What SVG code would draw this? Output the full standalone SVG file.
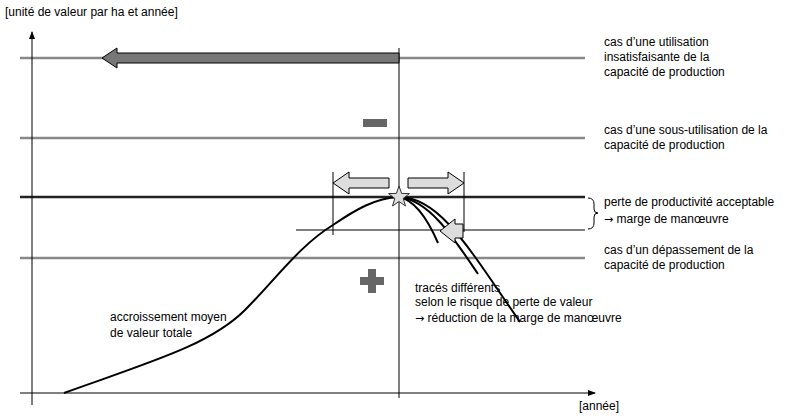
<svg xmlns="http://www.w3.org/2000/svg" width="800" height="418" viewBox="0 0 800 418">
<style>
text{font-family:"Liberation Sans",Arial,sans-serif;font-size:12px;fill:#000}
.ar{font-family:"DejaVu Sans",sans-serif;font-size:11px}
.g{stroke:#888;stroke-width:2.5}
.k{stroke:#000;fill:none}
.h{fill:#ddd;stroke:#000;stroke-width:1}
</style>
<defs><marker id="a" markerWidth="8" markerHeight="8" refX="7" refY="4" orient="auto" markerUnits="userSpaceOnUse"><path d="M0,1 L8,4 L0,7z" fill="#000"/></marker></defs>
<rect width="800" height="418" fill="#fff"/>
<g id="levels">
<line class="g" x1="20" y1="58" x2="585" y2="58"/>
<line class="g" x1="20" y1="138" x2="585" y2="138"/>
<line x1="20" y1="197" x2="585" y2="197" stroke="#222" stroke-width="2.5"/>
<line class="k" x1="296" y1="230" x2="585" y2="230"/>
<line class="g" x1="20" y1="258" x2="585" y2="258"/>
</g>
<g id="connectors">
<line class="k" x1="32" y1="405" x2="32" y2="32" marker-end="url(#a)"/>
<line class="k" x1="20" y1="393" x2="595" y2="393" marker-end="url(#a)"/>
<line class="k" x1="399" y1="48" x2="399" y2="398"/>
<line class="k" x1="333" y1="172" x2="333" y2="235"/>
<line class="k" x1="464" y1="172" x2="464" y2="232"/>
<path class="k" stroke-width="2" d="M64,393 C150,362 210,345 245,310 C275,280 300,245 333,225 C355,210 375,198 399,197 C440,197 470,250 520,322"/>
<path class="k" stroke-width="2" d="M399,197 C415,200 428,220 438,243"/>
<path class="k" stroke-width="2" d="M399,197 C430,200 455,240 478,274"/>
</g>
<g id="big-arrow"><path d="M399,53 L117,53 L117,48 L102,58 L117,68 L117,63 L399,63z" fill="#777" stroke="#000"/></g>
<g id="minus"><rect x="363" y="119" width="24" height="8" fill="#666"/></g>
<g id="plus"><path d="M368,269 h8 v8 h8 v8 h-8 v8 h-8 v-8 h-8 v-8 h8z" fill="#666"/></g>
<g id="arrow-left"><path class="h" d="M389,178 L349,178 L349,172 L333,183 L349,194 L349,188 L389,188z"/></g>
<g id="arrow-right"><path class="h" d="M408,178 L448,178 L448,172 L464,183 L448,194 L448,188 L408,188z"/></g>
<g id="arrow-small"><path class="h" d="M463,224 L455,224 L455,219 L440,231 L455,243 L455,238 L463,238z"/></g>
<g id="star"><path d="M399,186 L401.6,193.4 L409.5,193.6 L403.2,198.4 L405.5,206 L399,201.5 L392.5,206 L394.8,198.4 L388.5,193.6 L396.4,193.4z" fill="#ddd" stroke="#333"/></g>
<g id="labels">
<text x="5" y="16">[unité de valeur par ha et année]</text>
<text x="579" y="410">[année]</text>
<text x="604" y="46">cas d’une utilisation</text>
<text x="604" y="61">insatisfaisante de la</text>
<text x="604" y="76">capacité de production</text>
<text x="604" y="134">cas d’une sous-utilisation de la</text>
<text x="604" y="149">capacité de production</text>
<text x="604" y="206">perte de productivité acceptable</text>
<text x="604" y="223"><tspan class="ar">→</tspan> marge de manœuvre</text>
<path d="M588,198 Q594,198 594,204 L594,209 Q594,213 598,213 Q594,213 594,217 L594,223 Q594,229 588,229" fill="none" stroke="#000"/>
<text x="604" y="254">cas d’un dépassement de la</text>
<text x="604" y="269">capacité de production</text>
<text x="415" y="292">tracés différents</text>
<text x="415" y="306">selon le risque de perte de valeur</text>
<text x="415" y="322"><tspan class="ar">→</tspan> réduction de la marge de manœuvre</text>
<text x="110" y="321">accroissement moyen</text>
<text x="110" y="337">de valeur totale</text>
</g>
</svg>
